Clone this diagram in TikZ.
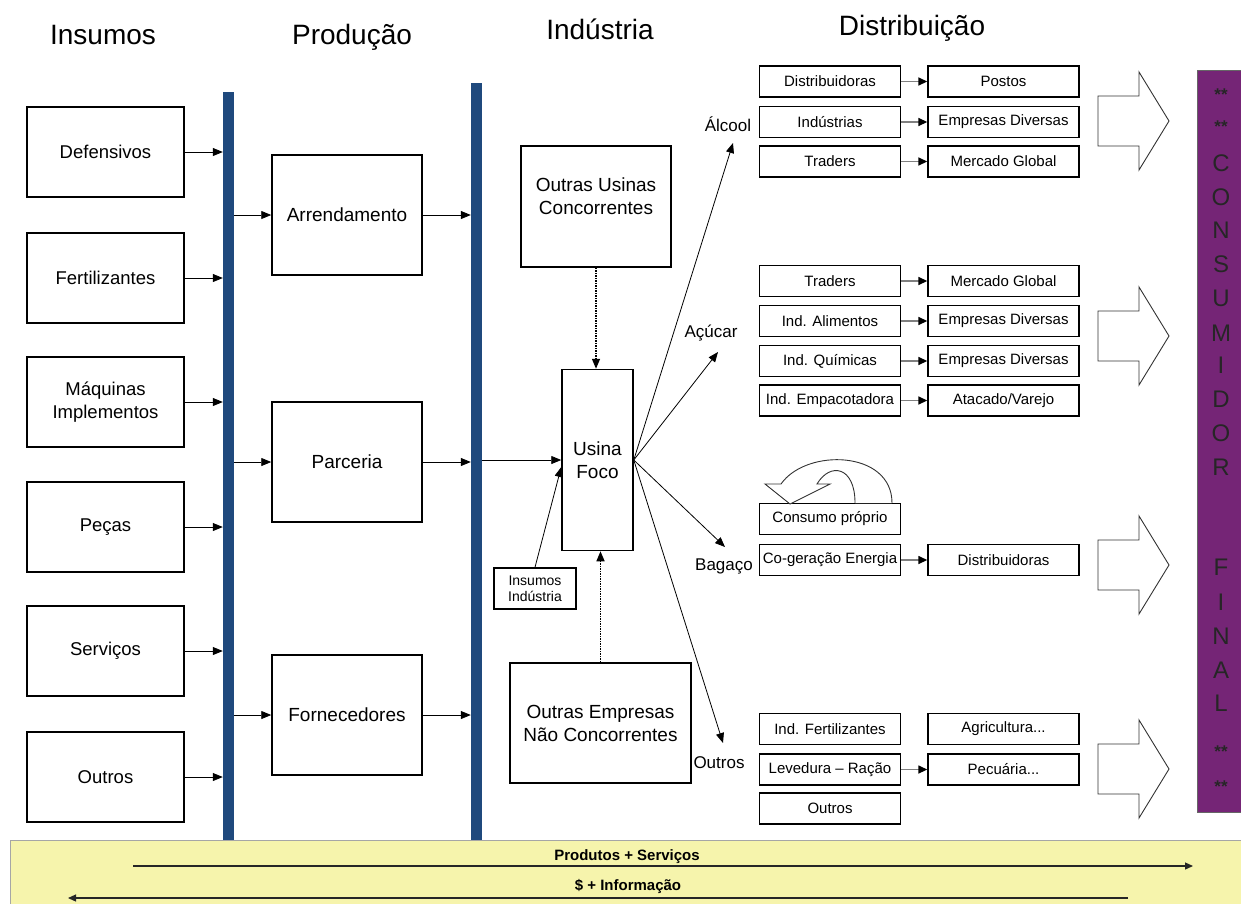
\documentclass[tikz,border=0pt]{standalone}
\usepackage{fontspec}
\setmainfont{Liberation Sans}
\usetikzlibrary{arrows.meta,positioning,calc}
\definecolor{barblue}{RGB}{31,73,125}
\definecolor{consumo}{RGB}{117,37,118}
\definecolor{faixa}{RGB}{246,244,172}
\newcommand{\fsz}[2]{\fontsize{#1}{#2}\selectfont}

\begin{document}
\begin{tikzpicture}[
  x=1pt, y=-1pt,
  font=\fsz{19}{23},
  elo/.style={draw, line width=1.5pt, minimum width=157pt, minimum height=90pt,
              inner sep=2pt, align=center, font=\fsz{18.5}{23}},
  prod/.style={draw, line width=1.5pt, minimum width=150pt, minimum height=120pt, align=center},
  ind/.style={draw, line width=1.5pt, align=center, inner sep=2pt},
  dist/.style={draw, line width=1.4pt, minimum width=141pt, minimum height=31pt,
               inner sep=1pt, font=\fsz{15}{18}},
  distb/.style={dist, minimum width=151pt},
  barra/.style={fill=barblue, minimum width=11pt, inner sep=0pt},
  lbl/.style={font=\fsz{17}{20}},
  ttl/.style={font=\fsz{28}{32}, anchor=base},
  letra/.style={font=\fsz{24}{26}, text=black!85},
  estrela/.style={font=\bfseries\fsz{17}{18}, text=black!85},
  arr/.style={-{Triangle[length=10pt,width=8pt]}, line width=0.8pt},
  garr/.style={-{Triangle[length=9pt,width=8pt,color=black]}, draw=black!50, line width=1.5pt},
  dots/.style={-{Triangle[length=10pt,width=8pt]}, line width=1.5pt, densely dotted},
  fluxo/.style={-{Triangle[length=8pt,width=7pt]}, line width=1.2pt, draw=black!85},
  seta/.style={draw=black!80, line width=0.9pt, fill=white},
]
\useasboundingbox (0,0) rectangle (1241,903);

% ============================================================
% TITLES
% ============================================================
\node[ttl] (tins) at (103,44) {Insumos};
\node[ttl] (tpro) at (352,44) {Produção};
\node[ttl] (tind) at (600,39) {Indústria};
\node[ttl] (tdis) at (912,35) {Distribuição};

% ============================================================
% INSUMOS -> bar 1
% ============================================================
\node[barra, minimum height=748pt] (bar1) at (228.5,466) {};
\node[barra, minimum height=757pt] (bar2) at (476.5,461.5) {};

\node[elo] (def) at (105.5,152) {Defensivos};
\node[elo] (fer) at (105.5,278) {Fertilizantes};
\node[elo] (maq) at (105.5,402) {Máquinas\\Implementos};
\node[elo] (pec) at (105.5,527) {Peças};
\node[elo] (ser) at (105.5,651) {Serviços};
\node[elo] (out) at (105.5,777) {Outros};
\draw[arr] (def.east) -- (def.east -| bar1.west);
\draw[arr] (fer.east) -- (fer.east -| bar1.west);
\draw[arr] (maq.east) -- (maq.east -| bar1.west);
\draw[arr] (pec.east) -- (pec.east -| bar1.west);
\draw[arr] (ser.east) -- (ser.east -| bar1.west);
\draw[arr] (out.east) -- (out.east -| bar1.west);

% ============================================================
% PRODUCAO
% ============================================================
\node[prod] (arrend) at (347,215) {Arrendamento};
\node[prod] (parc)   at (347,462) {Parceria};
\node[prod] (forn)   at (347,715) {Fornecedores};
\draw[arr] (arrend.west -| bar1.east) -- (arrend.west);
\draw[arr] (parc.west -| bar1.east) -- (parc.west);
\draw[arr] (forn.west -| bar1.east) -- (forn.west);
\draw[arr] (arrend.east) -- (arrend.east -| bar2.west);
\draw[arr] (parc.east) -- (parc.east -| bar2.west);
\draw[arr] (forn.east) -- (forn.east -| bar2.west);

% ============================================================
% INDUSTRIA
% ============================================================
\node[ind, minimum width=150pt, minimum height=121pt] (ouc) at (596,206.5)
  {Outras Usinas\\Concorrentes\\[-2pt]};
\node[ind, minimum width=71pt, minimum height=181pt] (usina) at (597.5,460) {Usina\\Foco};
\node[ind, minimum width=82pt, minimum height=41pt, font=\fsz{14}{16}] (insind) at (535,588.5)
  {Insumos\\Indústria};
\node[ind, minimum width=181pt, minimum height=120pt] (oenc) at (600.5,723)
  {Outras Empresas\\Não Concorrentes};

\draw[arr] (usina.west -| bar2.east) -- (usina.west);
\draw[arr] (insind.north) -- ([yshift=-7pt]usina.west);
\draw[dots] (ouc.south) -- (ouc.south |- usina.north);
\draw[dots] (oenc.north) -- (oenc.north |- usina.south);

% products leaving the mill
\node[lbl] (alc) at (728,124) {Álcool};
\node[lbl] (acu) at (711,333) {Açúcar};
\node[lbl] (bag) at (724,566) {Bagaço};
\node[lbl] (outl) at (719,763) {Outros};
\coordinate (alcp) at (733,143);
\coordinate (acup) at (718,352);
\coordinate (bagp) at (725,547);
\coordinate (outp) at (723,743);
\draw[arr] (usina.east) -- (alcp);
\draw[arr] (usina.east) -- (acup);
\draw[arr] (usina.east) -- (bagp);
\draw[arr] (usina.east) -- (outp);

% ============================================================
% DISTRIBUICAO
% ============================================================
\def\xa{830}\def\xb{1003.5}

% alcool
\node[dist]  (alcA1) at (\xa,81.5) {Distribuidoras};
\node[distb] (alcB1) at (\xb,81.5) {Postos};
\node[dist]  (alcA2) at (\xa,122) {Indústrias};
\node[distb] (alcB2) at (\xb,122) {Empresas Diversas};
\node[dist]  (alcA3) at (\xa,161.5) {Traders};
\node[distb] (alcB3) at (\xb,161.5) {Mercado Global};
\draw[garr] (alcA1) -- (alcB1);
\draw[garr] (alcA2) -- (alcB2);
\draw[garr] (alcA3) -- (alcB3);

% acucar
\node[dist]  (acuA1) at (\xa,281) {Traders};
\node[distb] (acuB1) at (\xb,281) {Mercado Global};
\node[dist]  (acuA2) at (\xa,321) {Ind. Alimentos};
\node[distb] (acuB2) at (\xb,321) {Empresas Diversas};
\node[dist]  (acuA3) at (\xa,361) {Ind. Químicas};
\node[distb] (acuB3) at (\xb,361) {Empresas Diversas};
\node[dist]  (acuA4) at (\xa,400.5) {Ind. Empacotadora};
\node[distb] (acuB4) at (\xb,400.5) {Atacado/Varejo};
\draw[garr] (acuA1) -- (acuB1);
\draw[garr] (acuA2) -- (acuB2);
\draw[garr] (acuA3) -- (acuB3);
\draw[garr] (acuA4) -- (acuB4);

% bagaco
\node[dist]  (bagA1) at (\xa,519) {Consumo próprio};
\node[dist]  (bagA2) at (\xa,560) {\makebox[0pt]{Co-geração Energia}};
\node[distb] (bagB2) at (\xb,560) {Distribuidoras};
\draw[garr] (bagA2) -- (bagB2);
% curved arrow back onto the mill
\draw[seta] (892,503) .. controls (892,450) and (806,448) .. (781,484)
  -- (765,484) -- (790,504) -- (830,484) -- (817,484)
  .. controls (830,462) and (855,466) .. (855,503);

% outros
\node[dist]  (outA1) at (\xa,729) {Ind. Fertilizantes};
\node[distb] (outB1) at (\xb,729) {Agricultura...};
\node[dist]  (outA2) at (\xa,769.5) {Levedura -- Ração};
\node[distb] (outB2) at (\xb,769.5) {Pecuária...};
\node[dist]  (outA3) at (\xa,808.5) {Outros};
\draw[garr] (outA2) -- (outB2);

% hollow block arrows
\foreach \cy in {121,336,565,769}
  \draw[draw=black!80, line width=0.9pt] (1098,\cy-25) -- (1139,\cy-25) -- (1139,\cy-49)
    -- (1169,\cy) -- (1139,\cy+49) -- (1139,\cy+25) -- (1098,\cy+25) -- cycle;

% ============================================================
% CONSUMIDOR FINAL
% ============================================================
\node[fill=consumo, draw=black!60, minimum width=44pt, minimum height=742pt, inner sep=0pt]
  (cf) at (1219,441) {};
\foreach \yl/\lt [count=\i] in {163/C,197/O,230/N,264/S,298/U,333/M,365/I,399/D,433/O,467/R,
                                567/F,602/I,636/N,670/A,703/L}
  \node[letra] (l\i) at (1221,\yl) {\lt};
\node[estrela] (s1) at (1221,95) {**};
\node[estrela] (s2) at (1221,127) {**};
\node[estrela] (s3) at (1221,752) {**};
\node[estrela] (s4) at (1221,787) {**};

% ============================================================
% BOTTOM BAND
% ============================================================
\filldraw[fill=faixa, draw=black!35, line width=0.8pt] (10,840) rectangle (1245,907);
\node[font=\bfseries\fsz{15}{17}] (ps) at (627,857) {Produtos + Serviços};
\node[font=\bfseries\fsz{15}{17}] (si) at (628,886) {\$ + Informação};
\coordinate (ps1) at (133,866);
\coordinate (ps2) at (1193,866);
\coordinate (si1) at (1128,898);
\coordinate (si2) at (68,898);
\draw[fluxo] (ps1) -- (ps2);
\draw[fluxo] (si1) -- (si2);

\end{tikzpicture}
\end{document}
